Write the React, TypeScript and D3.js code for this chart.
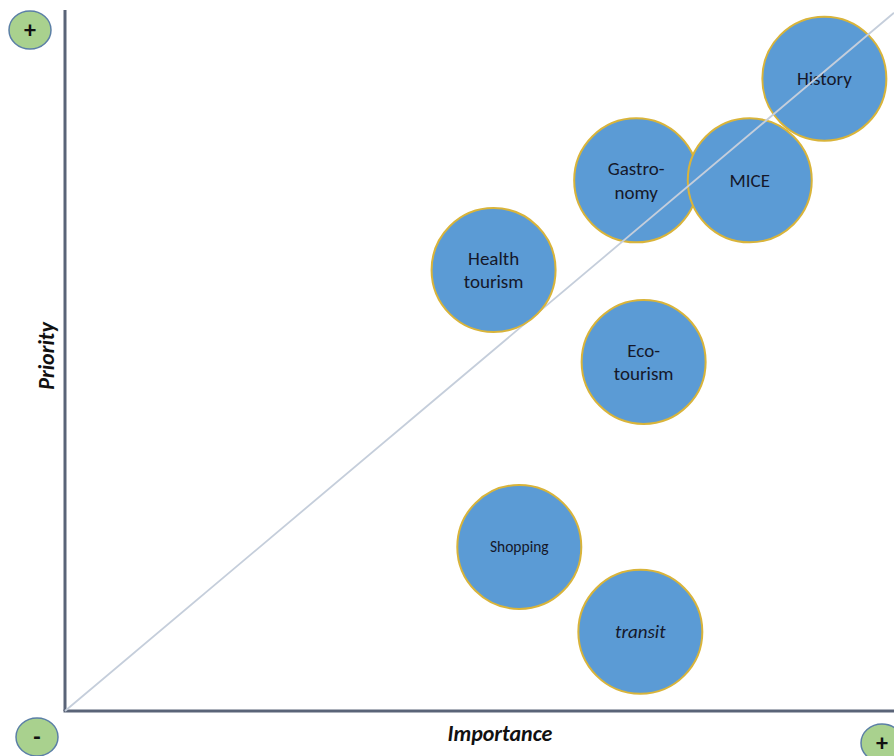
import React, { useEffect, useRef } from 'react';
import * as d3 from 'd3';

// bubble positions on 0-100 scales (importance, priority)
const names = ['History', 'Gastro-\nnomy', 'MICE', 'Health\ntourism', 'Eco-\ntourism', 'Shopping', 'transit'];
const importance = [91.6, 68.9, 82.6, 51.7, 69.8, 54.8, 69.4];
const priority = [90.2, 75.7, 75.7, 62.9, 49.8, 23.4, 11.3];
const italic = [false, false, false, false, false, false, true];
const labelSize = [19, 19, 19, 19, 19, 15.5, 19];
// drawn above the diagonal?
const aboveLine = [false, false, false, true, true, true, true];

const W = 894;
const H = 756;

export default function App() {
  const ref = useRef<SVGSVGElement>(null);

  useEffect(() => {
    const svg = d3.select(ref.current);
    svg.selectAll('*').remove();

    const x = d3.scaleLinear().domain([0, 100]).range([65, 894]);
    const y = d3.scaleLinear().domain([0, 100]).range([711, 10]);
    const r = 62;

    const data = names.map((n, i) => ({
      name: n, x: importance[i], y: priority[i], italic: italic[i], size: labelSize[i], above: aboveLine[i],
    }));

    const font = "Carlito, Calibri, 'Open Sans', sans-serif";

    const drawBubbles = (rows: typeof data) => {
      const g = svg.append('g');
      const b = g.selectAll('g').data(rows).enter().append('g')
        .attr('transform', (d: any) => `translate(${x(d.x)},${y(d.y)})`);
      b.append('circle')
        .attr('r', r)
        .attr('fill', '#5b9bd5')
        .attr('stroke', '#d9b43a')
        .attr('stroke-width', 2);
      b.each(function (d: any) {
        const lines = d.name.split('\n');
        const t = d3.select(this).append('text')
          .attr('text-anchor', 'middle')
          .attr('font-family', font)
          .attr('font-size', d.size)
          .attr('font-style', d.italic ? 'italic' : 'normal')
          .attr('fill', '#15182a');
        lines.forEach((l: string, k: number) => {
          t.append('tspan')
            .attr('x', 0)
            .attr('y', (k - (lines.length - 1) / 2) * 23.5 + d.size * 0.34)
            .text(l);
        });
      });
    };

    // axes
    svg.append('line')
      .attr('x1', x(0)).attr('x2', x(0)).attr('y1', 10).attr('y2', y(0))
      .attr('stroke', '#5a6478').attr('stroke-width', 3);
    svg.append('line')
      .attr('x1', x(0) - 1.5).attr('x2', W).attr('y1', y(0)).attr('y2', y(0))
      .attr('stroke', '#5a6478').attr('stroke-width', 3);

    drawBubbles(data.filter(d => !d.above));

    // diagonal
    svg.append('line')
      .attr('x1', x(0)).attr('y1', y(0))
      .attr('x2', x(100)).attr('y2', y(99.6))
      .attr('stroke', '#c5cedb').attr('stroke-width', 1.8);

    drawBubbles(data.filter(d => d.above));

    // axis titles
    svg.append('text')
      .attr('x', 500).attr('y', 741)
      .attr('text-anchor', 'middle')
      .attr('font-family', font).attr('font-size', 22)
      .attr('font-weight', 'bold').attr('font-style', 'italic')
      .attr('fill', '#111')
      .text('Importance');
    svg.append('text')
      .attr('transform', 'translate(54,356) rotate(-90)')
      .attr('text-anchor', 'middle')
      .attr('font-family', font).attr('font-size', 22)
      .attr('font-weight', 'bold').attr('font-style', 'italic')
      .attr('fill', '#111')
      .text('Priority');

    // green +/- markers
    const badges = [
      { cx: 30, cy: 30, label: '+' },
      { cx: 37, cy: 737, label: '-' },
      { cx: 882, cy: 743, label: '+' },
    ];
    const bg = svg.selectAll('g.badge').data(badges).enter().append('g')
      .attr('class', 'badge')
      .attr('transform', d => `translate(${d.cx},${d.cy})`);
    bg.append('ellipse')
      .attr('rx', 21).attr('ry', 19)
      .attr('fill', '#a9d18e')
      .attr('stroke', '#5b7fa6').attr('stroke-width', 1.5);
    bg.append('text')
      .attr('text-anchor', 'middle')
      .attr('y', 8)
      .attr('font-family', font).attr('font-size', 24).attr('font-weight', 'bold')
      .attr('fill', '#111')
      .text(d => d.label);
  }, []);

  return (
    <div style={{ position: 'absolute', left: 0, top: 0 }}>
      <svg ref={ref} width={W} height={H} style={{ display: 'block', background: '#fff' }} />
    </div>
  );
}
